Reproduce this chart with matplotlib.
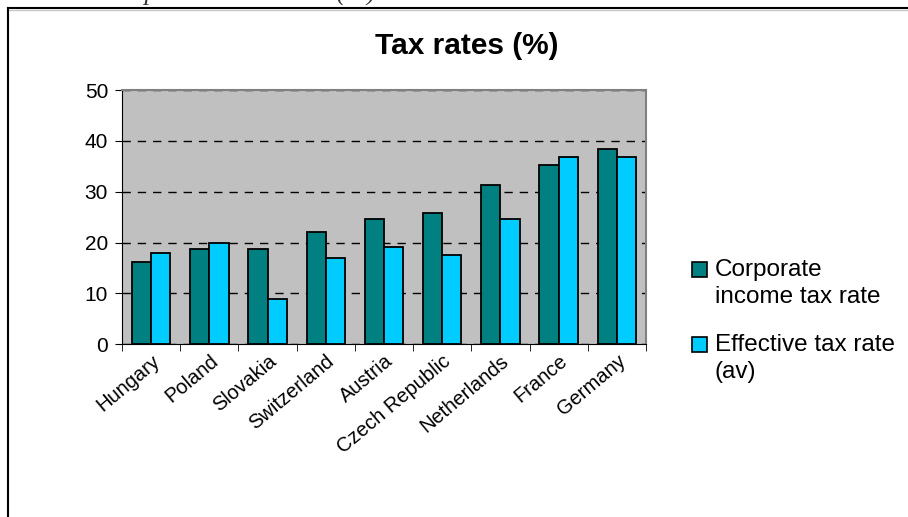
import numpy as np
import matplotlib.pyplot as plt
from matplotlib.lines import Line2D
from matplotlib.patches import Rectangle

plt.rcParams['font.family'] = ['Liberation Sans', 'DejaVu Sans']

# dados
paises = ["Hungary", "Poland", "Slovakia", "Switzerland", "Austria",
          "Czech Republic", "Netherlands", "France", "Germany"]
taxa_corporativa = [16.1, 18.8, 18.8, 22.0, 24.7, 25.8, 31.3, 35.2, 38.4]
taxa_efetiva = [18.0, 20.0, 9.0, 16.9, 19.1, 17.6, 24.7, 36.8, 36.8]
legendas = ["Corporate\nincome tax rate", "Effective tax rate\n(av)"]
cores = ['#008080', '#00CCFF']

W, H = 908, 517
fig = plt.figure(figsize=(W / 100, H / 100), dpi=100)

# moldura (so topo e esquerda aparecem)
fig.add_artist(Line2D([8 / W, 1], [1 - 8 / H, 1 - 8 / H], color='black', lw=1.5))
fig.add_artist(Line2D([8 / W, 1], [1 - 10 / H, 1 - 10 / H], color='#c8c8c8', lw=1))
fig.add_artist(Line2D([8 / W, 8 / W], [0, 1 - 8 / H], color='black', lw=1.5))

# titulo cortado do documento
fig.text(10 / W, 1 - 1 / H, "Chart 3: Corporate income tax (%)", family='Liberation Serif',
         style='italic', fontsize=18.5, ha='left', va='baseline', color='#333333')

ax = fig.add_axes([122 / W, 1 - 344.3 / H, (646 - 122) / W, (344.3 - 90) / H])
ax.set_facecolor('#C0C0C0')

x = np.arange(len(paises))
larg = 0.33
ax.bar(x - larg / 2, taxa_corporativa, larg, color=cores[0], edgecolor='black', lw=1.3, zorder=3)
ax.bar(x + larg / 2, taxa_efetiva, larg, color=cores[1], edgecolor='black', lw=1.3, zorder=3)

ax.set_xlim(-0.5, len(paises) - 0.5)
ax.set_ylim(0, 50)
ax.set_yticks([0, 10, 20, 30, 40, 50])
ax.yaxis.grid(True, color='black', ls=(0, (6, 5)), lw=1, zorder=1)
ax.tick_params(axis='y', direction='out', length=5, labelsize=15, pad=5)

ax.set_xticks(x)
ax.set_xticklabels(paises, rotation=40, ha='right', rotation_mode='anchor', fontsize=14.5)
ax.tick_params(axis='x', length=0, pad=5)
ax.set_xticks(np.arange(-0.5, len(paises)), minor=True)
ax.tick_params(axis='x', which='minor', direction='out', length=5)

for lado in ['top', 'right']:
    ax.spines[lado].set_color('#808080')
    ax.spines[lado].set_linewidth(1.5)
for lado in ['left', 'bottom']:
    ax.spines[lado].set_color('black')

fig.text(467 / W, 1 - 46 / H, "Tax rates (%)", fontsize=21.5, fontweight='bold',
         ha='center', va='center')

# legenda manual
for i, (rot, cor) in enumerate(zip(legendas, cores)):
    y_topo = 261.7 + i * 75.6
    fig.add_artist(Rectangle((692 / W, 1 - (y_topo + 15) / H), 15 / W, 15 / H,
                             facecolor=cor, edgecolor='black', lw=1.2))
    fig.text(715 / W, 1 - (y_topo - 3) / H, rot, fontsize=17.5, ha='left',
             va='top', linespacing=1.3)

fig.savefig('out.png', dpi=100)
